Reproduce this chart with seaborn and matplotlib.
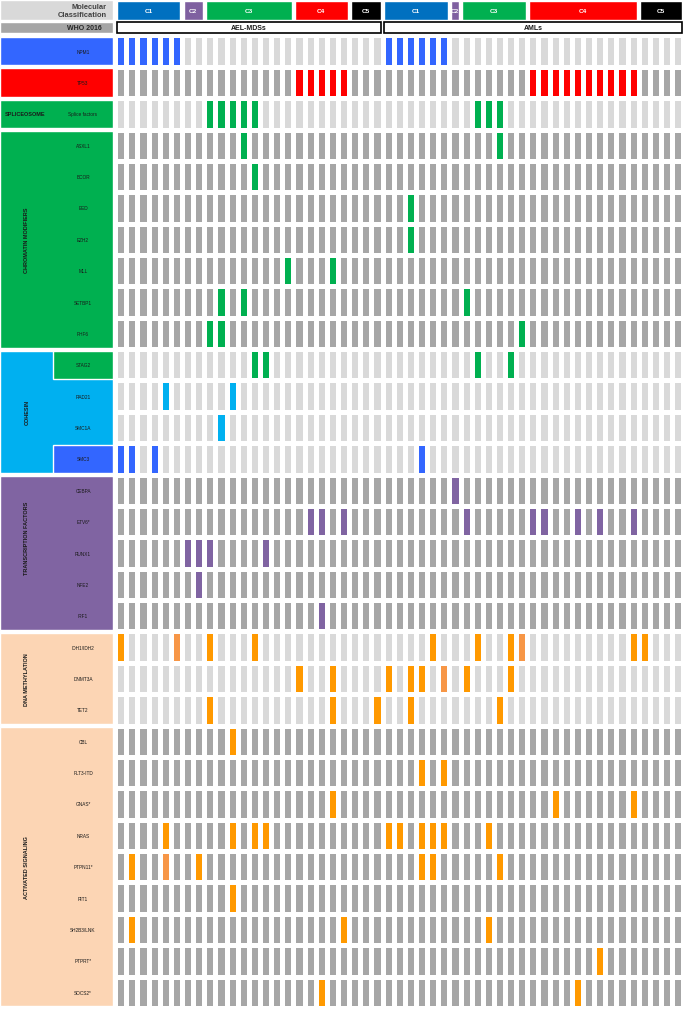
import numpy as np
import pandas as pd
import matplotlib
matplotlib.use("Agg")
import matplotlib.pyplot as plt
from matplotlib.colors import ListedColormap
import seaborn as sns


# ─────────────────────────────────────────────
# Data
# ─────────────────────────────────────────────

cohorts = ["AEL-MDSs", "AMLs"]
clusters = ["C1", "C2", "C3", "C4", "C5"]
ael_cluster_sizes = [6, 2, 8, 5, 3]
aml_cluster_sizes = [6, 1, 6, 10, 4]

groups = ["NPM1", "TP53", "SPLICEOSOME", "CHROMATIN MODIFIERS", "COHESIN",
          "TRANSCRIPTION FACTORS", "DNA METHYLATION", "ACTIVATED SIGNALING"]

# sample index 0-23 = AEL-MDSs, 24-50 = AMLs
genes_npm1 = ["NPM1"]
hits_npm1 = [[0, 1, 2, 3, 4, 5, 24, 25, 26, 27, 28, 29]]

genes_tp53 = ["TP53"]
hits_tp53 = [[16, 17, 18, 19, 20, 37, 38, 39, 40, 41, 42, 43, 44, 45, 46]]

genes_splice = ["Splice factors"]
hits_splice = [[8, 9, 10, 11, 12, 32, 33, 34]]

genes_chromatin = ["ASXL1", "BCOR", "EED", "EZH2", "MLL", "SETBP1", "PHF6"]
hits_chromatin = [[11, 34], [12], [26], [26], [15, 19], [9, 11, 31], [8, 9, 36]]

genes_cohesin = ["STAG2", "RAD21", "SMC1A", "SMC3"]
hits_cohesin = [[12, 13, 32, 35], [4, 10], [9], [0, 1, 3, 27]]

genes_tf = ["CEBPA", "ETV6*", "RUNX1", "NFE2", "IRF1"]
hits_tf = [[30], [17, 18, 20, 31, 37, 38, 41, 43, 46], [6, 7, 8, 13], [7], [18]]

genes_methyl = ["IDH1/IDH2", "DNMT3A", "TET2"]
hits_methyl = [[0, 8, 12, 28, 32, 35, 46, 47],
               [16, 19, 24, 26, 27, 31, 35],
               [8, 19, 23, 26, 34]]

genes_signal = ["CBL", "FLT3-ITD", "GNAS*", "NRAS", "PTPN11*", "RIT1",
                "SH2B3/LNK", "PTPRT*", "SOCS2*"]
hits_signal = [[10], [27, 29], [19, 39, 46],
               [4, 10, 12, 13, 24, 25, 27, 28, 29, 33],
               [1, 7, 27, 28, 34], [10], [1, 20, 33], [43], [18, 41]]

# hits shown in the lighter orange
light_hits = [("IDH1/IDH2", 5), ("IDH1/IDH2", 36), ("DNMT3A", 29), ("PTPN11*", 4)]

group_genes = [genes_npm1, genes_tp53, genes_splice, genes_chromatin,
               genes_cohesin, genes_tf, genes_methyl, genes_signal]
group_hits = [hits_npm1, hits_tp53, hits_splice, hits_chromatin,
              hits_cohesin, hits_tf, hits_methyl, hits_signal]


# ─────────────────────────────────────────────
# Styles
# ─────────────────────────────────────────────

LIGHT, DARK = "#D9D9D9", "#A6A6A6"
ORANGE, SALMON = "#FF9900", "#F79646"
group_fill = ["#3366FF", "#FF0000", "#00B050", "#00B050", "#00B0F0",
              "#8064A2", "#FCD5B4", "#FCD5B4"]
group_hit = ["#3366FF", "#FF0000", "#00B050", "#00B050", "#00B0F0",
             "#8064A2", ORANGE, ORANGE]
gene_hit_override = {"STAG2": "#00B050", "SMC3": "#3366FF"}
label_shift = {"TRANSCRIPTION FACTORS": -0.5}
cluster_colors = ["#0070C0", "#7F60A0", "#00B050", "#FF0000", "#000000"]

W, H = 685, 1012          # output size in px
GRID_L, GRID_R = 115.2, 683.3
GRID_T, GRID_B = 36.4, 1008.9
LAB_R = 113.3
LW = 2.25                 # white gap between cells, pt


# ─────────────────────────────────────────────
# Build matrix
# ─────────────────────────────────────────────

n_samples = sum(ael_cluster_sizes) + sum(aml_cluster_sizes)
palette = [LIGHT, DARK]


def code(color):
    if color not in palette:
        palette.append(color)
    return palette.index(color)


row_names, rows = [], []
for gi, (genes, hits) in enumerate(zip(group_genes, group_hits)):
    for gene, cols in zip(genes, hits):
        line = np.full(n_samples, gi % 2)
        line[cols] = code(gene_hit_override.get(gene, group_hit[gi]))
        for g, c in light_hits:
            if g == gene:
                line[c] = code(SALMON)
        row_names.append(gene)
        rows.append(line)

mat = pd.DataFrame(np.array(rows), index=row_names)
n_rows = len(row_names)

sns.set_style("white")
plt.rcParams["font.family"] = ["Liberation Sans", "DejaVu Sans"]

fig = plt.figure(figsize=(W / 100, H / 100), dpi=100)


def add_ax(l, r, t, b):
    return fig.add_axes([l / W, 1 - b / H, (r - l) / W, (b - t) / H])


ax = add_ax(GRID_L, GRID_R, GRID_T, GRID_B)
sns.heatmap(mat, cmap=ListedColormap(palette), vmin=-0.5, vmax=len(palette) - 0.5,
            cbar=False, linewidths=LW, linecolor="white",
            xticklabels=False, yticklabels=False, ax=ax)
ax.set_xlabel("")
ax.set_ylabel("")

# row gap in row units, column gap in column units
gap_px = LW * 100 / 72
gy = gap_px / ((GRID_B - GRID_T) / n_rows)
gx = gap_px / ((GRID_R - GRID_L) / n_samples)

# ─────────────────────────────────────────────
# Left label panel
# ─────────────────────────────────────────────

ax_lab = add_ax(0, LAB_R, GRID_T, GRID_B)
ax_lab.set_xlim(0, LAB_R)
ax_lab.set_ylim(n_rows, 0)
ax_lab.axis("off")

start = 0
for gi, (gname, genes) in enumerate(zip(groups, group_genes)):
    n = len(genes)
    ax_lab.barh(start + n / 2, LAB_R, left=0, height=n - gy, color=group_fill[gi])
    for j, gene in enumerate(genes):
        r = start + j + 0.5
        if gene in gene_hit_override and gene_hit_override[gene] != group_fill[gi]:
            ax_lab.barh(r, LAB_R - 53, left=53, height=1 - gy,
                        color=gene_hit_override[gene])
        ax_lab.text(83, r, gene, ha="center", va="center", fontsize=3.4,
                    color="#1A1A1A")
    if n > 1:
        ax_lab.text(27, start + n / 2 + label_shift.get(gname, 0), gname,
                    rotation=90, ha="center", va="center", fontsize=4,
                    fontweight="bold", color="#1A1A1A")
    elif gname != genes[0]:
        ax_lab.text(5, start + 0.5, gname, ha="left", va="center", fontsize=4,
                    fontweight="bold", color="#1A1A1A")
    start += n

# ─────────────────────────────────────────────
# Header rows
# ─────────────────────────────────────────────

ax_lh = add_ax(0, LAB_R, 0, GRID_T)
ax_lh.set_xlim(0, LAB_R)
ax_lh.set_ylim(GRID_T, 0)
ax_lh.axis("off")
ax_lh.barh(11.2, LAB_R, left=0, height=20, color=LIGHT)
ax_lh.text(107, 11.4, "Molecular\nClassification", ha="right", va="center",
           fontsize=5.4, fontweight="bold", color="#404040", linespacing=1.1)
ax_lh.barh(28.6, LAB_R, left=0, height=11.6, color=DARK)
ax_lh.text(84, 28.8, "WHO 2016", ha="center", va="center", fontsize=5,
           fontweight="bold", color="#262626")

ax_h = add_ax(GRID_L, GRID_R, 0, GRID_T)
ax_h.set_xlim(0, n_samples)
ax_h.set_ylim(GRID_T, 0)
ax_h.axis("off")

pos = 0
for cohort, sizes in zip(cohorts, [ael_cluster_sizes, aml_cluster_sizes]):
    c0 = pos
    for name, size, col in zip(clusters, sizes, cluster_colors):
        ax_h.barh(11.2, size - gx, left=pos + gx / 2, height=19.2, color=col)
        ax_h.text(pos + size / 2, 11.4, name, ha="center", va="center",
                  fontsize=4.6, fontweight="bold", color="white")
        pos += size
    ax_h.barh(28.8, pos - c0 - gx, left=c0 + gx / 2, height=11.2,
              color="white", edgecolor="black", linewidth=1.2)
    ax_h.text((c0 + pos) / 2, 29, cohort, ha="center", va="center",
              fontsize=5, fontweight="bold", color="#1A1A1A")

fig.savefig("out.png", dpi=100)
